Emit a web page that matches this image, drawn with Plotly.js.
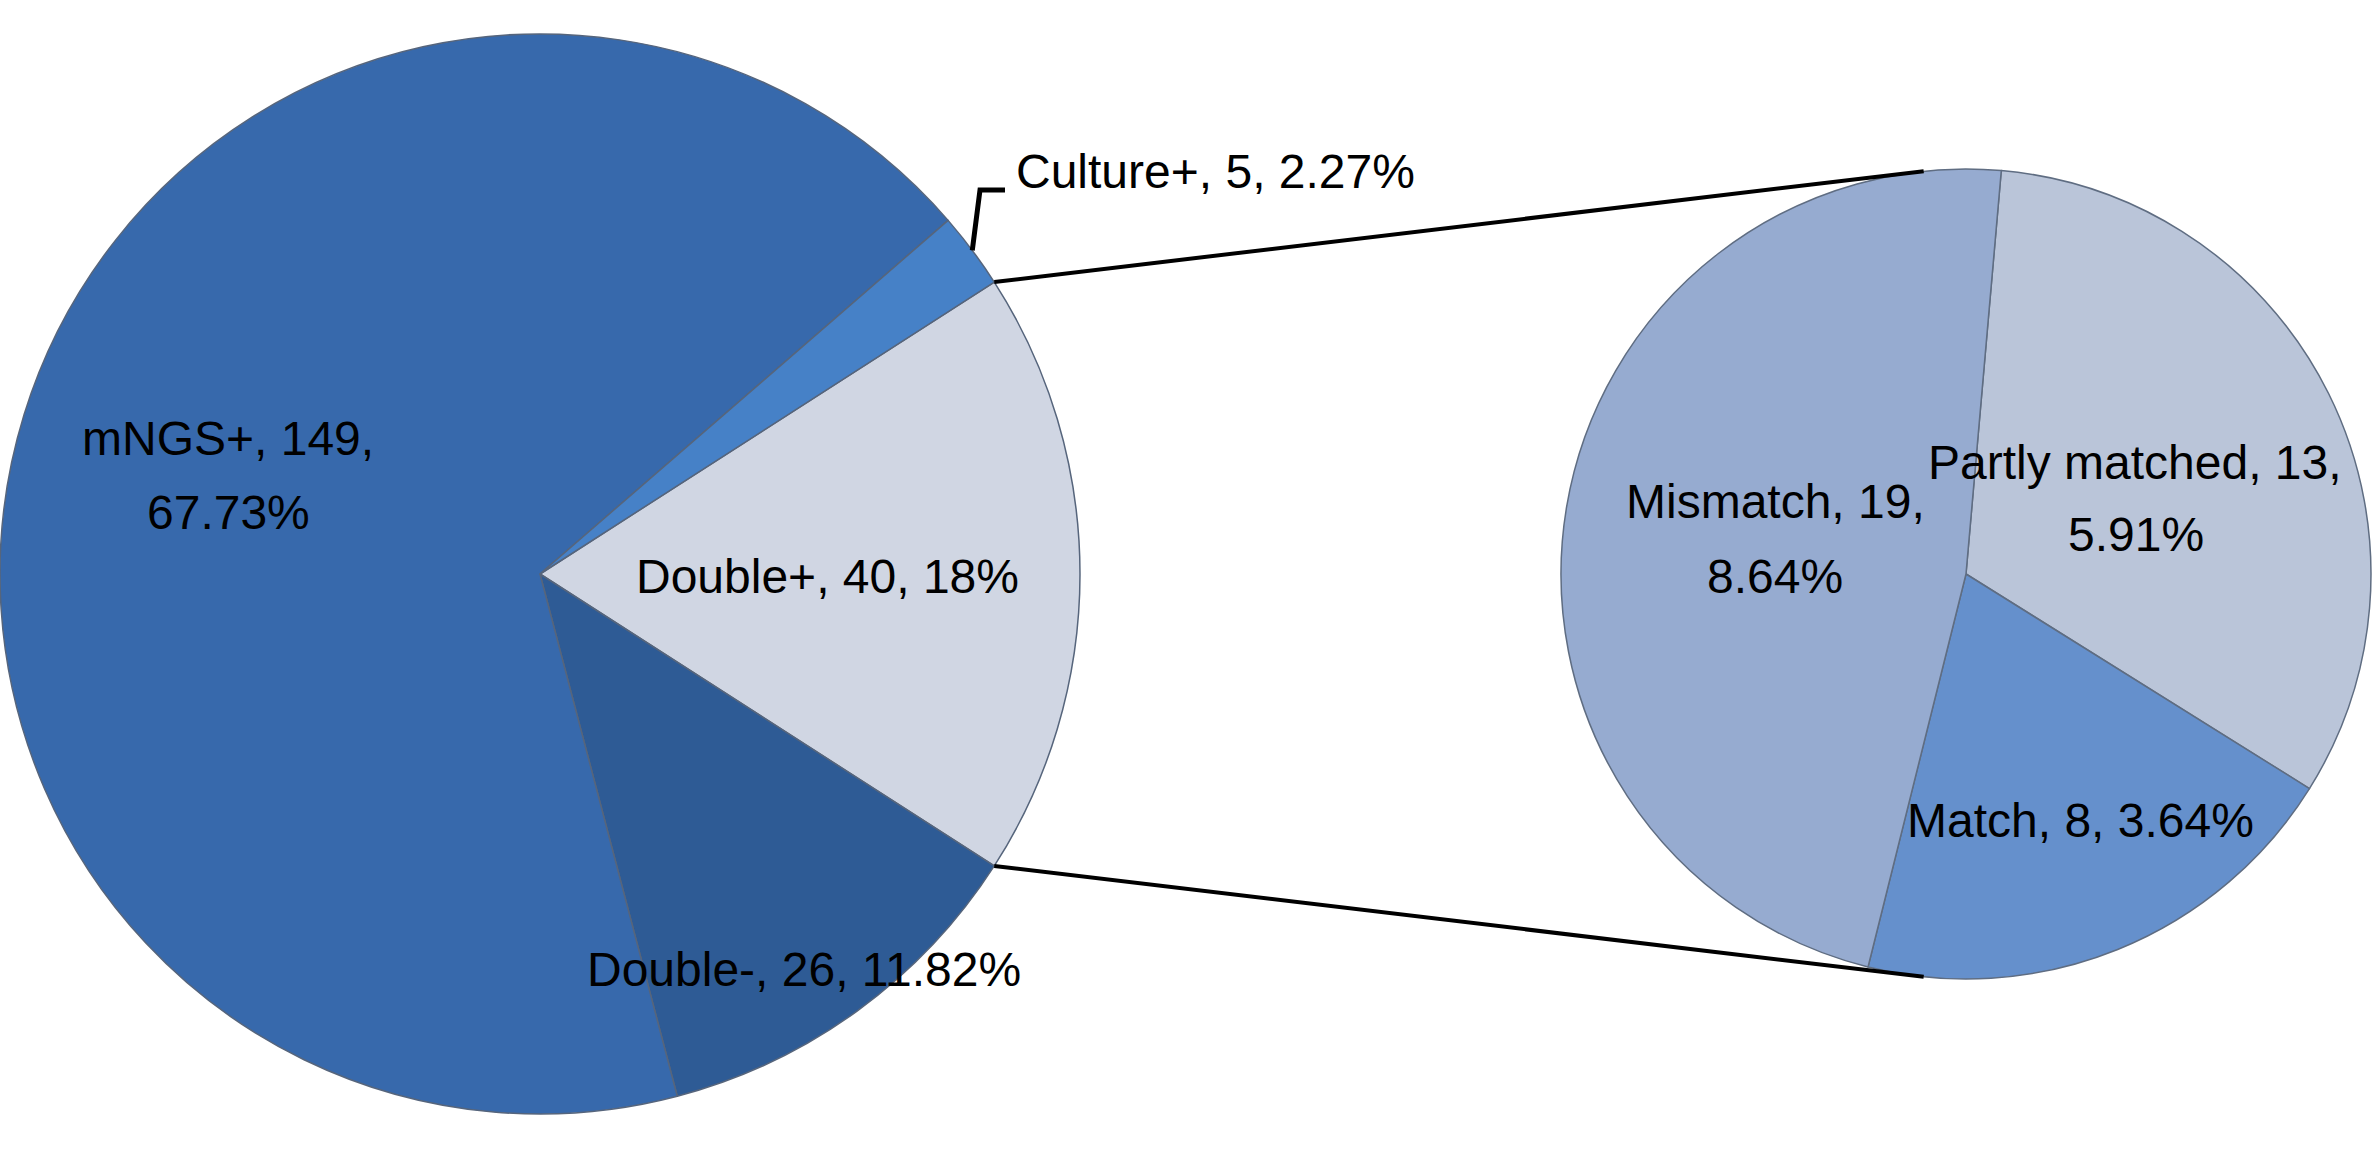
<!DOCTYPE html>
<html>
<head>
<meta charset="utf-8">
<script src="https://cdn.plot.ly/plotly-3.0.1.min.js"></script>
<style>
html, body { margin: 0; padding: 0; background: #ffffff; }
#chart { width: 2379px; height: 1173px; }
</style>
</head>
<body>
<div id="chart"></div>
<script>
// ---------------- data ----------------
const mainLabels = ["Double+", "Double-", "mNGS+", "Culture+"];
const mainValues = [40, 26, 149, 5];
const mainPercents = ["18%", "11.82%", "67.73%", "2.27%"];

const subLabels = ["Partly matched", "Match", "Mismatch"];
const subValues = [13, 8, 19];
const subPercents = ["5.91%", "3.64%", "8.64%"];

// ---------------- styles / layout geometry ----------------
const W = 2379, H = 1173;
const mainColors = ["#d0d6e3", "#2e5b95", "#3769ac", "#4681c7"];
const subColors = ["#bac5d9", "#6590cc", "#96abd0"];
const FONT = "Liberation Sans, Arial, sans-serif";
const FS = 48;

const mainC = {x: 540, y: 574, r: 540};
const subC = {x: 1966, y: 574, r: 405};

function px2x(p) { return p / W; }
function py2y(p) { return 1 - p / H; }

function domainFor(c) {
  return {
    x: [(c.x - c.r) / W, (c.x + c.r) / W],
    y: [(H - c.y - c.r) / H, (H - c.y + c.r) / H]
  };
}

const mainTotal = mainValues.reduce((a, b) => a + b, 0);
const splitShare = mainValues[0] / mainTotal;          // Double+ is split in second pie
const halfAngle = splitShare * 360 / 2;                 // degrees
const mainRotation = 90 - halfAngle;                    // Double+ centred on 3 o'clock

const traces = [
  {
    type: "pie",
    labels: mainLabels,
    values: mainValues,
    sort: false,
    direction: "clockwise",
    rotation: mainRotation,
    domain: domainFor(mainC),
    marker: { colors: mainColors, line: { color: "#56657c", width: 1.5 } },
    textinfo: "none",
    hoverinfo: "label+value+percent",
    showlegend: false
  },
  {
    type: "pie",
    labels: subLabels,
    values: subValues,
    sort: false,
    direction: "clockwise",
    rotation: 5,
    domain: domainFor(subC),
    marker: { colors: subColors, line: { color: "#5f6d82", width: 1.5 } },
    textinfo: "none",
    hoverinfo: "label+value+percent",
    showlegend: false
  }
];

// ---------------- labels ----------------
function ann(text, px, py, xanchor) {
  return {
    xref: "paper", yref: "paper",
    x: px2x(px), y: py2y(py),
    text: text, showarrow: false,
    xanchor: xanchor || "center", yanchor: "middle",
    font: { family: FONT, size: FS, color: "#000000" }
  };
}

const annotations = [
  // main pie
  ann(`${mainLabels[0]}, ${mainValues[0]}, ${mainPercents[0]}`, 827, 576),
  ann(`${mainLabels[1]}, ${mainValues[1]}, ${mainPercents[1]}`, 804, 969),
  ann(`${mainLabels[2]}, ${mainValues[2]},`, 228, 438),
  ann(`${mainPercents[2]}`, 228, 512),
  ann(`${mainLabels[3]}, ${mainValues[3]}, ${mainPercents[3]}`, 1014, 172, "left"),
  // second pie
  ann(`${subLabels[0]}, ${subValues[0]},`, 2135, 462),
  ann(`${subPercents[0]}`, 2136, 534),
  ann(`${subLabels[1]}, ${subValues[1]}, ${subPercents[1]}`, 2080, 820),
  ann(`${subLabels[2]}, ${subValues[2]},`, 1775, 501),
  ann(`${subPercents[2]}`, 1775, 576)
];

// ---------------- connector lines ----------------
const rad = Math.PI / 180;
const topStart = { x: mainC.x + mainC.r * Math.cos(halfAngle * rad), y: mainC.y - mainC.r * Math.sin(halfAngle * rad) };
const botStart = { x: mainC.x + mainC.r * Math.cos(halfAngle * rad), y: mainC.y + mainC.r * Math.sin(halfAngle * rad) };
const subTopAng = -6 * rad;
const topEnd = { x: subC.x + subC.r * Math.sin(subTopAng), y: subC.y - subC.r * Math.cos(subTopAng) };
const botEnd = { x: subC.x + subC.r * Math.sin(subTopAng), y: subC.y + subC.r * Math.cos(subTopAng) };

// culture+ leader: from mid-angle of its slice on the rim
const cultureMid = mainRotation - (mainValues[3] / mainTotal) * 360 / 2; // clockwise from 12 o'clock
const lead0 = { x: mainC.x + mainC.r * Math.sin(cultureMid * rad), y: mainC.y - mainC.r * Math.cos(cultureMid * rad) };

function linePath(pts) {
  return pts.map((p, i) => (i ? "L" : "M") + px2x(p.x) + "," + py2y(p.y)).join(" ");
}

const shapes = [
  { type: "line", xref: "paper", yref: "paper",
    x0: px2x(topStart.x), y0: py2y(topStart.y), x1: px2x(topEnd.x), y1: py2y(topEnd.y),
    line: { color: "#000000", width: 4 } },
  { type: "line", xref: "paper", yref: "paper",
    x0: px2x(botStart.x), y0: py2y(botStart.y), x1: px2x(botEnd.x), y1: py2y(botEnd.y),
    line: { color: "#000000", width: 4 } },
  { type: "path", xref: "paper", yref: "paper",
    path: linePath([lead0, { x: 980, y: 190 }, { x: 1005, y: 190 }]),
    line: { color: "#000000", width: 5 } }
];

const layout = {
  width: W, height: H,
  margin: { l: 0, r: 0, t: 0, b: 0, pad: 0 },
  paper_bgcolor: "#ffffff",
  plot_bgcolor: "#ffffff",
  showlegend: false,
  annotations: annotations,
  shapes: shapes,
  font: { family: FONT }
};

Plotly.newPlot("chart", traces, layout, { displayModeBar: false, staticPlot: true });
</script>
</body>
</html>
